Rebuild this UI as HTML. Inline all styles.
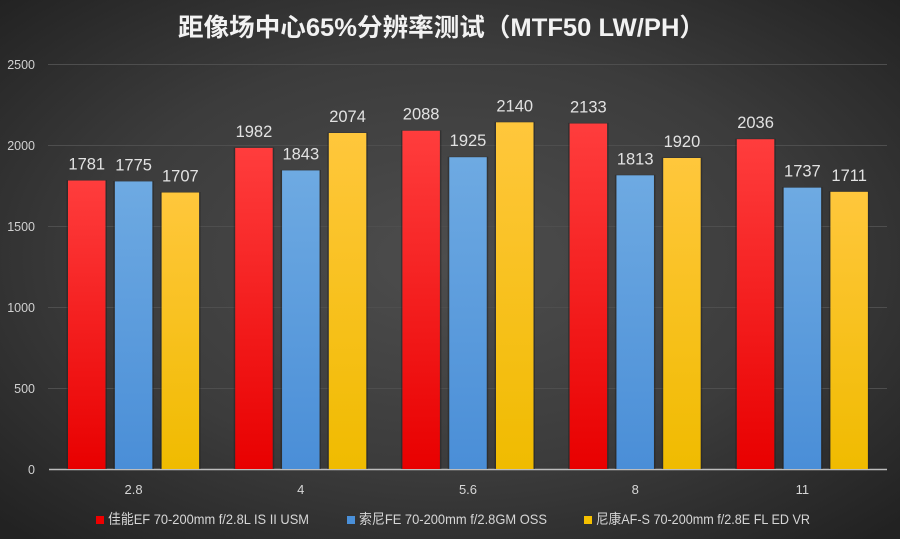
<!DOCTYPE html>
<html><head><meta charset="utf-8"><style>
html,body{margin:0;padding:0;width:900px;height:539px;overflow:hidden;background:#333;}
svg{display:block}
</style></head><body>
<svg width="900" height="539" viewBox="0 0 900 539" xmlns="http://www.w3.org/2000/svg">
<defs>
<radialGradient id="bg" cx="50%" cy="48%" r="70%" fx="50%" fy="48%">
<stop offset="0" stop-color="#4d4d4d"/>
<stop offset="0.55" stop-color="#3c3c3c"/>
<stop offset="1" stop-color="#222"/>
</radialGradient>
<linearGradient id="gr" x1="0" y1="0" x2="0" y2="1"><stop offset="0" stop-color="#ff3d3d"/><stop offset="1" stop-color="#e80000"/></linearGradient>
<linearGradient id="gb" x1="0" y1="0" x2="0" y2="1"><stop offset="0" stop-color="#6eaae2"/><stop offset="1" stop-color="#4a8ed7"/></linearGradient>
<linearGradient id="gy" x1="0" y1="0" x2="0" y2="1"><stop offset="0" stop-color="#ffc73c"/><stop offset="1" stop-color="#f0bb00"/></linearGradient>
</defs>
<rect width="900" height="539" fill="url(#bg)"/>
<text x="441.5" y="36" text-anchor="middle" font-family="'Liberation Sans','Noto Sans CJK SC',sans-serif" font-weight="bold" font-size="25" fill="#f2f2f2" textLength="527" lengthAdjust="spacingAndGlyphs">距像场中心65%分辨率测试（MTF50 LW/PH）</text>
<g stroke="#4e4e4e" stroke-width="1">
<line x1="48" y1="64.5" x2="887" y2="64.5"/>
<line x1="48" y1="145.5" x2="887" y2="145.5"/>
<line x1="48" y1="226.5" x2="887" y2="226.5"/>
<line x1="48" y1="307.5" x2="887" y2="307.5"/>
<line x1="48" y1="388.5" x2="887" y2="388.5"/>
</g>
<g font-family="'Liberation Sans',sans-serif" font-size="12.5" fill="#d0d0d0" text-anchor="end">
<text x="35" y="69">2500</text>
<text x="35" y="150">2000</text>
<text x="35" y="231">1500</text>
<text x="35" y="312">1000</text>
<text x="35" y="393">500</text>
<text x="35" y="474">0</text>
</g>
<g id="bars"></g>
<line x1="49" y1="469.5" x2="887" y2="469.5" stroke="#bdbdbd" stroke-width="1.5"/>
<g font-family="'Liberation Sans',sans-serif" font-size="13" fill="#d6d6d6" text-anchor="middle">
<text x="133.6" y="494">2.8</text>
<text x="300.8" y="494">4</text>
<text x="468" y="494">5.6</text>
<text x="635.2" y="494">8</text>
<text x="802.4" y="494">11</text>
</g>
<g font-family="'Liberation Sans','Noto Sans CJK SC',sans-serif" font-size="14" fill="#d6d6d6">
<rect x="96" y="516" width="8" height="8" fill="#ee0000"/>
<text x="108" y="524" textLength="201" lengthAdjust="spacingAndGlyphs">佳能EF 70-200mm f/2.8L IS II USM</text>
<rect x="347" y="516" width="8" height="8" fill="#4a90d9"/>
<text x="359" y="524" textLength="188" lengthAdjust="spacingAndGlyphs">索尼FE 70-200mm f/2.8GM OSS</text>
<rect x="584" y="516" width="8" height="8" fill="#f5c000"/>
<text x="596" y="524" textLength="214" lengthAdjust="spacingAndGlyphs">尼康AF-S 70-200mm f/2.8E FL ED VR</text>
</g>
<g id="b" font-family="'Liberation Sans',sans-serif" font-size="16.5" fill="#e2e2e2" text-anchor="middle">
<!-- 2.8 -->
<rect x="66.5" y="180" width="40.5" height="289" fill="#222" opacity="0.5"/>
<rect x="68" y="180.5" width="37.5" height="288.5" fill="url(#gr)"/>
<text x="86.75" y="169.5">1781</text>
<rect x="113.3" y="181" width="40.5" height="288" fill="#222" opacity="0.5"/>
<rect x="114.85" y="181.4" width="37.5" height="287.6" fill="url(#gb)"/>
<text x="133.6" y="170.4">1775</text>
<rect x="160.1" y="192" width="40.5" height="277" fill="#222" opacity="0.5"/>
<rect x="161.6" y="192.5" width="37.5" height="276.5" fill="url(#gy)"/>
<text x="180.35" y="181.5">1707</text>
<!-- 4 -->
<rect x="233.7" y="147.4" width="40.5" height="321.6" fill="#222" opacity="0.5"/>
<rect x="235.2" y="147.9" width="37.5" height="321.1" fill="url(#gr)"/>
<text x="253.95" y="136.9">1982</text>
<rect x="280.5" y="169.9" width="40.5" height="299.1" fill="#222" opacity="0.5"/>
<rect x="282.05" y="170.4" width="37.5" height="298.6" fill="url(#gb)"/>
<text x="300.8" y="159.4">1843</text>
<rect x="327.3" y="132.5" width="40.5" height="336.5" fill="#222" opacity="0.5"/>
<rect x="328.8" y="133" width="37.5" height="336" fill="url(#gy)"/>
<text x="347.55" y="122">2074</text>
<!-- 5.6 -->
<rect x="400.9" y="130.3" width="40.5" height="338.7" fill="#222" opacity="0.5"/>
<rect x="402.4" y="130.7" width="37.5" height="338.3" fill="url(#gr)"/>
<text x="421.15" y="119.7">2088</text>
<rect x="447.7" y="156.7" width="40.5" height="312.3" fill="#222" opacity="0.5"/>
<rect x="449.25" y="157.2" width="37.5" height="311.8" fill="url(#gb)"/>
<text x="468" y="146.2">1925</text>
<rect x="494.5" y="121.8" width="40.5" height="347.2" fill="#222" opacity="0.5"/>
<rect x="496" y="122.3" width="37.5" height="346.7" fill="url(#gy)"/>
<text x="514.75" y="111.3">2140</text>
<!-- 8 -->
<rect x="568.1" y="122.9" width="40.5" height="346.1" fill="#222" opacity="0.5"/>
<rect x="569.6" y="123.5" width="37.5" height="345.5" fill="url(#gr)"/>
<text x="588.35" y="112.5">2133</text>
<rect x="614.9" y="174.8" width="40.5" height="294.2" fill="#222" opacity="0.5"/>
<rect x="616.45" y="175.3" width="37.5" height="293.7" fill="url(#gb)"/>
<text x="635.2" y="164.3">1813</text>
<rect x="661.7" y="157.5" width="40.5" height="311.5" fill="#222" opacity="0.5"/>
<rect x="663.2" y="158" width="37.5" height="311" fill="url(#gy)"/>
<text x="681.95" y="147">1920</text>
<!-- 11 -->
<rect x="735.3" y="138.7" width="40.5" height="330.3" fill="#222" opacity="0.5"/>
<rect x="736.8" y="139.2" width="37.5" height="329.8" fill="url(#gr)"/>
<text x="755.55" y="128.2">2036</text>
<rect x="782.1" y="187.1" width="40.5" height="281.9" fill="#222" opacity="0.5"/>
<rect x="783.65" y="187.6" width="37.5" height="281.4" fill="url(#gb)"/>
<text x="802.4" y="176.6">1737</text>
<rect x="828.9" y="191.3" width="40.5" height="277.7" fill="#222" opacity="0.5"/>
<rect x="830.4" y="191.8" width="37.5" height="277.2" fill="url(#gy)"/>
<text x="849.15" y="180.8">1711</text>
</g>
</svg>
</body></html>
